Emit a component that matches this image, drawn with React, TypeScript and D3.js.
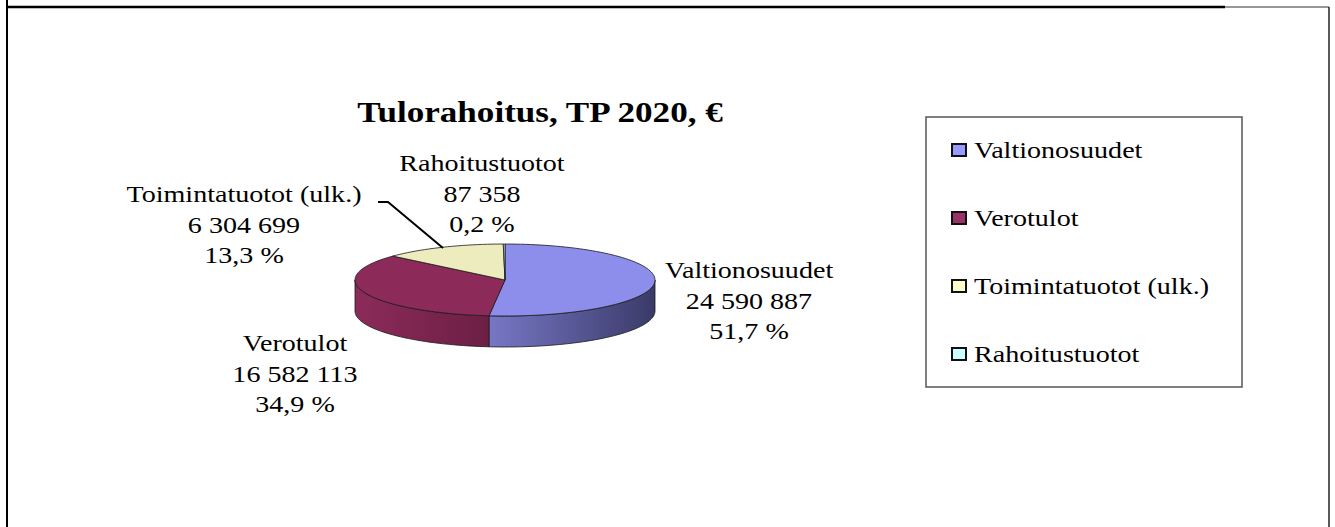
import React from 'react';
import * as d3 from 'd3';

// chart data
const categories = ['Valtionosuudet', 'Verotulot', 'Toimintatuotot (ulk.)', 'Rahoitustuotot'];
const values = [24590887, 16582113, 6304699, 87358];
const legendColors = ['#9999ff', '#993366', '#ffffcc', '#ccffff'];
const topColors = ['#8d8dec', '#8c2b5a', '#ececbe', '#c6eeee'];
const sideColors = [['#7777c6', '#3a3a68'], ['#8c2b5a', '#6c1f44'], ['#c8c89c', '#a8a880'], ['#a8cccc', '#88aaaa']];
const title = 'Tulorahoitus, TP 2020, €';

const W = 1335;
const H = 527;
const SX = 1.17; // the reference text is a bit stretched horizontally

const fmtNum = d3.formatLocale({ thousands: '\u00a0', grouping: [3], decimal: ',', currency: ['', ''] }).format(',');
const fmtPct = (p: number) => d3.format('.1f')(p * 100).replace('.', ',') + '\u00a0%';

function StretchText({ x, y, size, anchor = 'middle', bold = false, children }: any) {
  return (
    <text
      transform={`translate(${x},${y}) scale(${SX},1)`}
      textAnchor={anchor}
      fontFamily="'Liberation Serif', 'Times New Roman', serif"
      fontSize={size}
      fontWeight={bold ? 'bold' : 'normal'}
      fill="#000"
    >
      {children}
    </text>
  );
}

export default function App() {
  const cx = 505;
  const cy = 280;
  const rx = 150;
  const ry = 36;
  const depth = 31;

  const total = d3.sum(values);
  const arcs = d3.pie<number>().sort(null).startAngle(0).endAngle(2 * Math.PI)(values);

  const pt = (a: number, dy = 0): [number, number] => [cx + rx * Math.sin(a), cy - ry * Math.cos(a) + dy];
  const arcPts = (a0: number, a1: number, dy = 0) => {
    const n = Math.max(2, Math.ceil(((a1 - a0) / Math.PI) * 90));
    return d3.range(n + 1).map(i => pt(a0 + ((a1 - a0) * i) / n, dy));
  };
  const line = d3.line();

  const sides = arcs.map((a, i) => {
    const s0 = Math.max(a.startAngle, Math.PI / 2);
    const s1 = Math.min(a.endAngle, (3 * Math.PI) / 2);
    if (s0 >= s1) return null;
    const top = arcPts(s0, s1);
    const bottom = arcPts(s0, s1, depth).reverse();
    const xs = top.map(p => p[0]);
    return { i, d: line([...top, ...bottom]) + 'Z', x0: d3.min(xs)!, x1: d3.max(xs)! };
  });

  const tops = arcs.map((a, i) => ({
    i,
    d: line([[cx, cy], ...arcPts(a.startAngle, a.endAngle)]) + 'Z',
  }));

  // label anchors (center x, first baseline)
  const labelPos = [
    { x: 749, y: 278 },
    { x: 295, y: 351 },
    { x: 244, y: 202 },
    { x: 482, y: 171 },
  ];
  const lineGap = 30.5;

  const legendX = 926;
  const legendY = 117;
  const legendW = 316;
  const legendH = 270;
  const legendStep = 68;

  return (
    <svg width={W} height={H} style={{ position: 'absolute', left: 0, top: 0, background: '#fff' }}>
      <defs>
        {sides.map(s =>
          s ? (
            <linearGradient key={s.i} id={`side-${s.i}`} gradientUnits="userSpaceOnUse" x1={s.x0} x2={s.x1} y1={0} y2={0}>
              <stop offset="0%" stopColor={sideColors[s.i][0]} />
              <stop offset="100%" stopColor={sideColors[s.i][1]} />
            </linearGradient>
          ) : null
        )}
      </defs>

      {/* outer frame */}
      <line x1={7} y1={0} x2={7} y2={H} stroke="#000" strokeWidth={2} />
      <line x1={6} y1={7} x2={1225} y2={7} stroke="#000" strokeWidth={2.5} />
      <line x1={1225} y1={7} x2={1329} y2={7} stroke="#333" strokeWidth={1} />
      <line x1={1329} y1={7} x2={1329} y2={H} stroke="#222" strokeWidth={1.5} />

      <StretchText x={540} y={122} size={30} bold>
        {title}
      </StretchText>

      {/* pie sides */}
      {sides.map(s =>
        s ? <path key={`s${s.i}`} d={s.d} fill={`url(#side-${s.i})`} stroke="#1a1a1a" strokeWidth={0.8} /> : null
      )}
      {/* pie tops */}
      {tops.map(t => (
        <path key={`t${t.i}`} d={t.d} fill={topColors[t.i]} stroke="#1a1a1a" strokeWidth={0.8} strokeLinejoin="round" />
      ))}

      {/* leader line for Toimintatuotot */}
      <polyline points="378,202 388,202 443,248" fill="none" stroke="#000" strokeWidth={2} />

      {/* data labels */}
      {categories.map((c, i) => {
        const p = labelPos[i];
        return (
          <g key={`l${i}`}>
            <StretchText x={p.x} y={p.y} size={24}>{c}</StretchText>
            <StretchText x={p.x} y={p.y + lineGap} size={24}>{fmtNum(values[i])}</StretchText>
            <StretchText x={p.x} y={p.y + 2 * lineGap} size={24}>{fmtPct(values[i] / total)}</StretchText>
          </g>
        );
      })}

      {/* legend */}
      <rect x={legendX} y={legendY} width={legendW} height={legendH} fill="#fff" stroke="#555" strokeWidth={1.5} />
      {categories.map((c, i) => {
        const by = legendY + 41 + i * legendStep;
        return (
          <g key={`g${i}`}>
            <rect x={952} y={by - 14} width={14} height={12} fill={legendColors[i]} stroke="#111" strokeWidth={2} />
            <StretchText x={974} y={by} size={24} anchor="start">{c}</StretchText>
          </g>
        );
      })}
    </svg>
  );
}
